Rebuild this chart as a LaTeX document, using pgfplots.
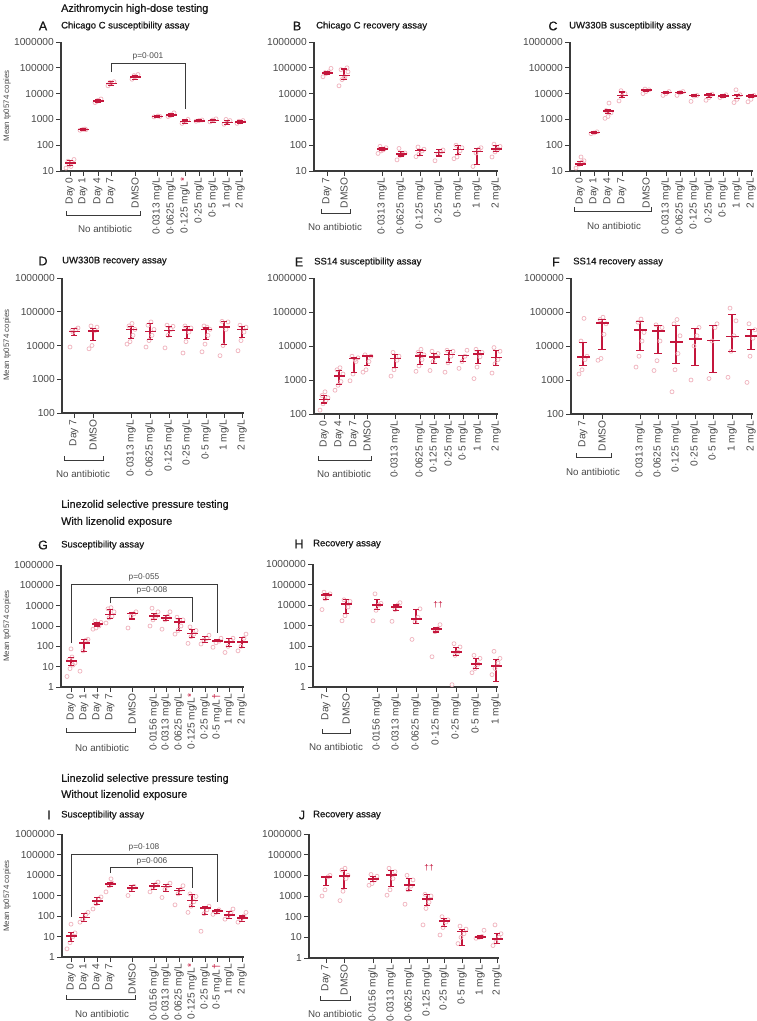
\documentclass[border=0pt]{standalone}
\usepackage{fontspec}
\setmainfont{Liberation Sans}
\newfontfamily\medfont{Liberation Sans}[FakeBold=0.7]
\usepackage{pgfplots}
\pgfplotsset{compat=1.18}
\definecolor{redc}{HTML}{C4163C}
\definecolor{pinkc}{HTML}{F0B6C0}
\definecolor{axc}{HTML}{3A3A3A}
\definecolor{txc}{HTML}{4A4A4A}
\newcommand{\tickf}{\fontsize{10.2}{11}\selectfont}
\newcommand{\naf}{\fontsize{9.8}{11}\selectfont}
\newcommand{\ylf}{\fontsize{7.9}{9}\selectfont}
\newcommand{\pvf}{\fontsize{8.3}{9}\selectfont}
\newcommand{\headf}{\medfont\fontsize{10.8}{12}\selectfont}
\newcommand{\titf}{\medfont\fontsize{9.5}{11}\selectfont}
\newcommand{\letf}{\medfont\fontsize{12.5}{14}\selectfont}
\pgfplotsset{
 mystyle/.style={
  scale only axis, clip=false,
  axis x line*=bottom, axis y line*=left,
  axis line style={draw=axc, line width=1.1pt},
  tick style={draw=axc, line width=0.9pt},
  tick align=outside, major tick length=5pt,
  yminorticks=false, xminorticks=false,
  tick label style={font=\tickf, text=txc},
  xticklabel style={rotate=90, anchor=east, inner sep=1.5pt},
  yticklabel style={inner sep=2pt},
  unbounded coords=jump,
 },
 ydecA/.style={ymin=10, ymax=1000000, ytick={10,100,1000,10000,100000,1000000}, yticklabels={10,100,1000,10000,100000,1000000}},
 ydecB/.style={ymin=100, ymax=1000000, ytick={100,1000,10000,100000,1000000}, yticklabels={100,1000,10000,100000,1000000}},
 ydecC/.style={ymin=1, ymax=1000000, ytick={1,10,100,1000,10000,100000,1000000}, yticklabels={1,10,100,1000,10000,100000,1000000}},
 mypts/.style={only marks, mark=o, mark size=2pt, color=pinkc, mark options={line width=0.75pt, draw=pinkc}},
 mybars/.style={color=redc, line width=1.1pt, mark=-, mark size=3pt, mark options={line width=1.1pt, draw=redc}},
 mymeans/.style={only marks, color=redc, mark=-, mark size=5.5pt, mark options={line width=1.6pt, draw=redc}},
}
\begin{document}
\begin{tikzpicture}
\path[use as bounding box] (0pt,0pt) rectangle (757pt,-1021pt);

% ---------------- A ----------------
\begin{semilogyaxis}[mystyle, ydecA, anchor=south west, at={(61pt,-171pt)}, width=182pt, height=129pt, xmin=61, xmax=243,
 xtick={70,83,98,111,135,157,171,185,199,213,227,240},
 xticklabels={Day 0,Day 1,Day 4,Day 7,DMSO,0·0313 mg/L,0·0625 mg/L,{0·125 mg/L\textcolor{redc}{*}},0·25 mg/L,0·5 mg/L,1 mg/L,2 mg/L}]
\addplot[mypts] coordinates {(66,13)(69,17)(72,22)(74,28)(68,24)(71,15)
(80,380)(83,410)(86,400)(85,425)
(95,4500)(98,5500)(101,6200)(97,5000)
(108,20000)(111,24000)(114,29000)(110,27000)
(132,36000)(135,45000)(138,55000)(134,50000)
(154,1250)(158,1350)(160,1300)
(168,1300)(171,1500)(174,1800)(170,1400)
(182,700)(185,800)(188,1000)(184,850)
(196,850)(199,900)(202,950)
(210,800)(213,950)(216,1050)(212,900)
(224,650)(227,750)(230,900)(226,1000)
(237,700)(240,800)(243,900)(239,850)};
\addplot[mybars] coordinates {(70,16)(70,25)(70,nan)(83,370)(83,430)(83,nan)(98,4600)(98,5800)(98,nan)(111,21000)(111,29000)(111,nan)(135,36000)(135,52000)(135,nan)(157,1220)(157,1380)(157,nan)(171,1250)(171,1650)(171,nan)(185,700)(185,950)(185,nan)(199,820)(199,950)(199,nan)(213,780)(213,1020)(213,nan)(227,640)(227,900)(227,nan)(240,720)(240,880)};
\addplot[mymeans] coordinates {(70,20)(83,400)(98,5200)(111,25000)(135,44000)(157,1300)(171,1450)(185,820)(199,880)(213,900)(227,760)(240,800)};
\end{semilogyaxis}

% ---------------- B ----------------
\begin{semilogyaxis}[mystyle, ydecA, anchor=south west, at={(314pt,-171pt)}, width=184pt, height=129pt, xmin=314, xmax=498,
 xtick={327,344,382,401,420,439,458,477,496},
 xticklabels={Day 7,DMSO,0·0313 mg/L,0·0625 mg/L,0·125 mg/L,0·25 mg/L,0·5 mg/L,1 mg/L,2 mg/L}]
\addplot[mypts] coordinates {(323,45000)(326,60000)(329,70000)(331,95000)(325,65000)
(339,20000)(342,35000)(345,45000)(348,70000)(341,85000)(347,100000)(344,40000)
(378,48)(381,60)(384,70)(386,80)(380,90)(383,65)
(397,27)(400,40)(403,45)(405,50)(399,75)
(416,36)(419,45)(422,60)(424,70)(418,85)
(435,25)(438,45)(441,55)(443,65)
(454,30)(457,35)(460,60)(462,80)(456,100)
(473,15)(476,50)(479,70)(481,80)
(492,35)(495,55)(498,70)(500,90)(494,110)};
\addplot[mybars] coordinates {(327,56000)(327,74000)(327,nan)(344,34000)(344,90000)(344,nan)(382,60)(382,80)(382,nan)(401,38)(401,56)(401,nan)(420,40)(420,68)(420,nan)(439,38)(439,66)(439,nan)(458,45)(458,100)(458,nan)(477,18)(477,75)(477,nan)(496,55)(496,98)};
\addplot[mymeans] coordinates {(327,64000)(344,50000)(382,70)(401,45)(420,63)(439,52)(458,68)(477,57)(496,72)};
\end{semilogyaxis}

% ---------------- C ----------------
\begin{semilogyaxis}[mystyle, ydecA, anchor=south west, at={(570pt,-171pt)}, width=183pt, height=129pt, xmin=570, xmax=753,
 xtick={580,594,608,622,646,666,680,694,709,723,737,751},
 xticklabels={Day 0,Day 1,Day 4,Day 7,DMSO,0·0313 mg/L,0·0625 mg/L,0·125 mg/L,0·25 mg/L,0·5 mg/L,1 mg/L,2 mg/L}]
\addplot[mypts] coordinates {(576,13)(579,18)(582,22)(584,25)(581,35)
(591,280)(594,300)(597,330)
(605,1100)(608,1300)(611,1800)(606,2200)(609,4300)
(619,5200)(622,8000)(625,10000)(621,13000)
(643,10000)(646,12000)(649,14000)(645,15000)
(663,8500)(666,10000)(669,12000)
(677,8500)(680,11000)(683,12000)
(691,5000)(694,8000)(697,8500)
(706,5500)(709,7000)(712,9500)
(720,7000)(723,8000)(726,9000)
(734,4500)(737,6000)(740,9000)(736,14000)
(748,4800)(751,6000)(754,8500)};
\addplot[mybars] coordinates {(580,16)(580,24)(580,nan)(594,290)(594,330)(594,nan)(608,1700)(608,2400)(608,nan)(622,7000)(622,11500)(622,nan)(646,12000)(646,14500)(646,nan)(666,10000)(666,12000)(666,nan)(680,10000)(680,12000)(680,nan)(694,7700)(694,9000)(694,nan)(709,7000)(709,10000)(709,nan)(723,7200)(723,9000)(723,nan)(737,6500)(737,9500)(737,nan)(751,6800)(751,8800)};
\addplot[mymeans] coordinates {(580,19)(594,310)(608,2150)(622,8500)(646,13500)(666,11000)(680,11000)(694,8400)(709,8800)(723,8000)(737,8400)(751,8000)};
\end{semilogyaxis}

% ---------------- D ----------------
\begin{semilogyaxis}[mystyle, ydecB, anchor=south west, at={(62pt,-413pt)}, width=182pt, height=135pt, xmin=62, xmax=244,
 xtick={74,93,131,150,169,187,206,224,242},
 xticklabels={Day 7,DMSO,0·0313 mg/L,0·0625 mg/L,0·125 mg/L,0·25 mg/L,0·5 mg/L,1 mg/L,2 mg/L}]
\addplot[mypts] coordinates {(70,9000)(73,25000)(76,30000)(78,33000)(72,28000)
(89,8000)(92,10000)(95,28000)(97,35000)(91,38000)
(127,11000)(130,13000)(133,20000)(135,30000)(129,38000)(132,45000)
(146,9000)(149,14000)(152,20000)(154,30000)(148,40000)(151,50000)
(165,8500)(168,20000)(171,30000)(173,37000)(167,40000)
(183,6000)(186,13000)(189,25000)(191,33000)(185,38000)
(202,6500)(205,11000)(208,20000)(210,30000)(204,38000)(207,35000)
(220,5000)(223,10000)(226,30000)(228,50000)(222,52000)
(238,7000)(241,14000)(244,25000)(246,35000)(240,40000)};
\addplot[mybars] coordinates {(74,20000)(74,31000)(74,nan)(93,14000)(93,32000)(93,nan)(131,16000)(131,37000)(131,nan)(150,15000)(150,45000)(150,nan)(169,18000)(169,37000)(169,nan)(187,16000)(187,37000)(187,nan)(206,15000)(206,33000)(206,nan)(224,10500)(224,50000)(224,nan)(242,17000)(242,36000)};
\addplot[mymeans] coordinates {(74,26000)(93,27000)(131,30000)(150,26000)(169,28000)(187,29000)(206,30000)(224,35000)(242,30000)};
\end{semilogyaxis}

% ---------------- E ----------------
\begin{semilogyaxis}[mystyle, ydecB, anchor=south west, at={(314pt,-414pt)}, width=184pt, height=136pt, xmin=314, xmax=498,
 xtick={324,339,354,367,395,420,434,449,463,478,496},
 xticklabels={Day 0,Day 4,Day 7,DMSO,0·0313 mg/L,0·0625 mg/L,0·125 mg/L,0·25 mg/L,0·5 mg/L,1 mg/L,2 mg/L}]
\addplot[mypts] coordinates {(320,130)(323,200)(326,250)(328,300)(322,350)(325,450)
(335,500)(338,700)(341,900)(343,1500)(337,2000)(340,2300)
(350,950)(353,1500)(356,3500)(358,4500)(352,5000)(355,4000)
(363,1700)(366,2000)(369,3500)(371,5000)(365,5500)
(391,1300)(394,2000)(397,3800)(399,5000)(393,6500)
(416,1800)(419,2600)(422,4000)(424,5500)(418,6500)(421,8000)
(430,1900)(433,3500)(436,5000)(438,6000)(432,7000)
(445,1700)(448,3200)(451,5000)(453,7000)(447,7500)
(459,2200)(462,3500)(465,5000)(467,7500)
(474,1100)(477,2400)(480,4800)(482,6500)(476,8000)
(492,1600)(495,3000)(498,4000)(500,7000)(494,9000)};
\addplot[mybars] coordinates {(324,211)(324,340)(324,nan)(339,740)(339,1900)(339,nan)(354,1660)(354,4600)(354,nan)(367,2600)(367,5400)(367,nan)(395,2400)(395,5600)(395,nan)(420,2900)(420,6300)(420,nan)(434,3000)(434,6000)(434,nan)(449,3300)(449,7300)(449,nan)(463,3500)(463,5400)(463,nan)(478,3000)(478,7500)(478,nan)(496,2600)(496,7200)};
\addplot[mymeans] coordinates {(324,265)(339,1290)(354,4300)(367,5000)(395,4300)(420,5000)(434,4800)(449,5600)(463,5200)(478,5800)(496,4600)};
\end{semilogyaxis}

% ---------------- F ----------------
\begin{semilogyaxis}[mystyle, ydecB, anchor=south west, at={(571pt,-414pt)}, width=182pt, height=136pt, xmin=571, xmax=753,
 xtick={583,602,640,658,676,695,713,732,751},
 xticklabels={Day 7,DMSO,0·0313 mg/L,0·0625 mg/L,0·125 mg/L,0·25 mg/L,0·5 mg/L,1 mg/L,2 mg/L}]
\addplot[mypts] coordinates {(579,1500)(582,2000)(585,4000)(587,5000)(581,14000)(584,65000)
(598,3800)(601,4300)(604,22000)(606,45000)(600,60000)(603,70000)
(636,2400)(639,5000)(642,14000)(644,25000)(638,50000)(641,62000)
(654,1900)(657,3700)(660,14000)(662,35000)(656,42000)
(672,450)(675,2000)(678,6000)(680,20000)(674,45000)(677,60000)
(691,1000)(694,10000)(697,20000)(699,35000)
(709,1100)(712,14000)(715,35000)(717,45000)
(728,1200)(731,7000)(734,20000)(736,55000)(730,130000)
(747,850)(750,5000)(753,17000)(755,30000)(749,45000)};
\addplot[mybars, mark size=4pt] coordinates {(583,2600)(583,12900)(583,nan)(602,8100)(602,60000)(602,nan)(640,7300)(640,54000)(640,nan)(658,5900)(658,40000)(658,nan)(676,3000)(676,40000)(676,nan)(695,2600)(695,33000)(695,nan)(713,1700)(713,40000)(713,nan)(732,7000)(732,85000)(732,nan)(751,8000)(751,31000)};
\addplot[mymeans, mark size=6.5pt] coordinates {(583,4700)(602,48000)(640,29000)(658,27500)(676,13200)(695,15800)(713,14700)(732,19300)(751,20000)};
\end{semilogyaxis}

% ---------------- G ----------------
\begin{semilogyaxis}[mystyle, ydecC, anchor=south west, at={(61pt,-687pt)}, width=183pt, height=122pt, xmin=61, xmax=244,
 xtick={71,84,97,110,132,154,166,179,192,205,217,229,242},
 xticklabels={Day 0,Day 1,Day 4,Day 7,DMSO,0·0156 mg/L,0·0313 mg/L,0·0625 mg/L,{0·125 mg/L\textcolor{redc}{*}},0·25 mg/L,{0·5 mg/L\textcolor{redc}{†}},1 mg/L,2 mg/L}]
\addplot[mypts] coordinates {(67,3.3)(70,8)(73,12)(75,15)(69,22)(72,30)(71,75)
(80,6)(83,60)(86,200)(88,220)
(93,700)(96,800)(99,1000)(101,1500)(95,1800)
(106,1400)(109,2500)(112,3000)(114,5000)(108,7000)(111,8000)
(128,800)(131,3000)(134,4000)(136,5000)
(150,1000)(153,2000)(156,3000)(158,5000)(152,7500)
(162,700)(165,2000)(168,3000)(170,5000)
(175,400)(178,600)(181,1000)(183,2000)(177,2700)
(188,140)(191,300)(194,400)(196,600)(190,900)
(201,130)(204,200)(207,250)(209,350)
(213,90)(216,150)(219,180)(221,250)
(225,50)(228,100)(231,200)(233,250)
(238,60)(241,100)(244,250)(246,400)};
\addplot[mybars] coordinates {(71,11)(71,27)(71,nan)(84,55)(84,220)(84,nan)(97,1000)(97,1500)(97,nan)(110,2300)(110,6500)(110,nan)(132,2200)(132,4400)(132,nan)(154,2000)(154,4300)(154,nan)(166,1900)(166,3300)(166,nan)(179,600)(179,2300)(179,nan)(192,270)(192,700)(192,nan)(205,160)(205,300)(205,nan)(217,170)(217,210)(217,nan)(229,100)(229,250)(229,nan)(242,90)(242,270)};
\addplot[mymeans] coordinates {(71,18.5)(84,148)(97,1230)(110,3700)(132,4100)(154,3200)(166,2500)(179,1600)(192,430)(205,215)(217,188)(229,160)(242,160)};
\end{semilogyaxis}

% ---------------- H ----------------
\begin{semilogyaxis}[mystyle, ydecC, anchor=south west, at={(313pt,-687pt)}, width=185pt, height=123pt, xmin=313, xmax=498,
 xtick={326,346,377,396,416,436,456,476,496},
 xticklabels={Day 7,DMSO,0·0156 mg/L,0·0313 mg/L,0·0625 mg/L,0·125 mg/L,0·25 mg/L,0·5 mg/L,1 mg/L}]
\addplot[mypts] coordinates {(322,6000)(325,20000)(328,30000)(330,35000)(324,42000)
(342,1700)(345,3000)(348,8000)(350,15000)(344,18000)
(373,1700)(376,5500)(379,10000)(381,12000)(375,35000)
(392,1600)(395,6000)(398,10000)(400,13000)
(412,210)(415,1500)(418,2500)(420,6500)
(432,30)(435,500)(438,700)(440,1100)
(452,1.3)(455,35)(458,50)(460,90)(454,130)
(472,5)(475,8)(478,13)(480,25)(474,35)
(492,4)(495,8)(498,15)(500,25)(494,55)};
\addplot[mybars] coordinates {(326,18000)(326,38000)(326,nan)(346,3800)(346,18000)(346,nan)(377,6000)(377,18000)(377,nan)(396,5500)(396,10000)(396,nan)(416,1300)(416,6000)(416,nan)(436,480)(436,800)(436,nan)(456,35)(456,85)(456,nan)(476,8)(476,24)(476,nan)(496,1.8)(496,22)};
\addplot[mymeans] coordinates {(326,30500)(346,11000)(377,10300)(396,7900)(416,2100)(436,660)(456,51)(476,13)(496,10.7)};
\end{semilogyaxis}

% ---------------- I ----------------
\begin{semilogyaxis}[mystyle, ydecC, anchor=south west, at={(62pt,-957pt)}, width=182pt, height=123pt, xmin=62, xmax=244,
 xtick={71,84,97,110,132,154,166,179,192,205,217,229,242},
 xticklabels={Day 0,Day 1,Day 4,Day 7,DMSO,0·0156 mg/L,0·0313 mg/L,0·0625 mg/L,{0·125 mg/L\textcolor{redc}{*}},0·25 mg/L,{0·5 mg/L\textcolor{redc}{†}},1 mg/L,2 mg/L}]
\addplot[mypts] coordinates {(67,2.5)(70,5)(73,10)(75,15)(71,40)
(80,50)(83,70)(86,120)(88,150)
(93,220)(96,400)(99,700)(101,850)
(106,1500)(109,3000)(112,4000)(111,6500)
(128,1000)(131,2000)(134,2800)
(150,1500)(153,2500)(156,3500)(158,4500)
(162,800)(165,2000)(168,3000)(170,4000)
(175,350)(178,1200)(181,2000)(183,3000)
(188,150)(191,300)(194,500)(196,900)(190,1200)
(201,18)(204,130)(207,200)(209,300)
(213,120)(216,150)(219,200)
(225,70)(228,100)(231,150)(233,220)
(238,50)(241,70)(244,100)(246,150)};
\addplot[mybars] coordinates {(71,6)(71,16)(71,nan)(84,55)(84,130)(84,nan)(97,380)(97,800)(97,nan)(110,2800)(110,4500)(110,nan)(132,1500)(132,3000)(132,nan)(154,2000)(154,3700)(154,nan)(166,1500)(166,3500)(166,nan)(179,1100)(179,2300)(179,nan)(192,300)(192,1100)(192,nan)(205,120)(205,300)(205,nan)(217,130)(217,200)(217,nan)(229,75)(229,160)(229,nan)(242,55)(242,100)};
\addplot[mymeans] coordinates {(71,10.5)(84,85)(97,540)(110,3700)(132,2300)(154,2900)(166,2700)(179,1750)(192,560)(205,240)(217,170)(229,112)(242,78)};
\end{semilogyaxis}

% ---------------- J ----------------
\begin{semilogyaxis}[mystyle, ydecC, anchor=south west, at={(309pt,-958pt)}, width=190pt, height=124pt, xmin=309, xmax=499,
 xtick={326,344,373,391,409,427,444,462,480,497},
 xticklabels={Day 7,DMSO,0·0156 mg/L,0·0313 mg/L,0·0625 mg/L,0·125 mg/L,0·25 mg/L,0·5 mg/L,1 mg/L,2 mg/L}]
\addplot[mypts] coordinates {(322,1000)(325,2000)(328,8500)(330,10000)
(340,600)(343,1700)(346,7000)(348,10000)(342,18000)(345,22000)
(369,3300)(372,4000)(375,6000)(377,9000)(371,11000)
(387,1100)(390,2000)(393,7000)(395,15000)(389,22000)
(405,400)(408,2000)(411,3000)(413,6000)(407,10000)
(423,40)(426,250)(429,500)(431,1000)(425,1200)
(440,13)(443,30)(446,55)(448,70)(442,100)
(458,5)(461,10)(464,15)(466,25)(460,35)
(476,9)(479,10)(482,11)(484,22)
(493,4)(496,6)(499,10)(501,15)(495,40)};
\addplot[mybars] coordinates {(326,3200)(326,9000)(326,nan)(344,2300)(344,17000)(344,nan)(373,4800)(373,8500)(373,nan)(391,3000)(391,17000)(391,nan)(409,1800)(409,7200)(409,nan)(427,350)(427,1200)(427,nan)(444,35)(444,80)(444,nan)(462,4)(462,25)(462,nan)(480,9)(480,12)(480,nan)(497,5)(497,15)};
\addplot[mymeans] coordinates {(326,8500)(344,9200)(373,6700)(391,10700)(409,3300)(427,740)(444,63)(462,19)(480,10.5)(497,8.5)};
\end{semilogyaxis}

% ---------------- annotations ----------------
\begin{scope}[x=1pt,y=-1pt]
\tikzset{hd/.style={anchor=west, font=\headf, text=black!90, inner sep=0pt},
 tt/.style={anchor=west, font=\titf, text=black!90, inner sep=0pt},
 lt/.style={font=\letf, text=black!90, inner sep=0pt},
 na/.style={font=\naf, text=txc, inner sep=0pt},
 yl/.style={font=\ylf, text=txc, inner sep=0pt, rotate=90},
 pv/.style={font=\pvf, text=txc, inner sep=0pt},
 br/.style={draw=axc, line width=0.9pt}}
\node[hd] at (61,9) {Azithromycin high-dose testing};
\node[hd] at (61,505) {Linezolid selective pressure testing};
\node[hd] at (61,522) {With lizenolid exposure};
\node[hd] at (61,779) {Linezolid selective pressure testing};
\node[hd] at (61,795) {Without lizenolid exposure};
\node[lt] at (43,26) {A}; \node[tt] at (61,26) {Chicago C susceptibility assay};
\node[lt] at (297,26) {B}; \node[tt] at (316,26) {Chicago C recovery assay};
\node[lt] at (553,26) {C}; \node[tt] at (569,26) {UW330B susceptibility assay};
\node[lt] at (43,261) {D}; \node[tt] at (62,261) {UW330B recovery assay};
\node[lt] at (299,262) {E}; \node[tt] at (314,262) {SS14 susceptibility assay};
\node[lt] at (556,262) {F}; \node[tt] at (573,262) {SS14 recovery assay};
\node[lt] at (43,545) {G}; \node[tt] at (61,545) {Susceptibility assay};
\node[lt] at (299,544) {H}; \node[tt] at (313,544) {Recovery assay};
\node[lt] at (49,815) {I}; \node[tt] at (61,815) {Susceptibility assay};
\node[lt] at (302,815) {J}; \node[tt] at (313,815) {Recovery assay};
\node[yl] at (7,106) {Mean tp0574 copies};
\node[yl] at (7,345) {Mean tp0574 copies};
\node[yl] at (7,626) {Mean tp0574 copies};
\node[yl] at (7,896) {Mean tp0574 copies};
\draw[br] (66,211)--(66,215)--(140,215)--(140,211); \node[na] at (105,229) {No antibiotic};
\draw[br] (321,209)--(321,213)--(350,213)--(350,209); \node[na] at (335,227) {No antibiotic};
\draw[br] (574,207)--(574,211)--(651,211)--(651,207); \node[na] at (614,226) {No antibiotic};
\draw[br] (64,456)--(64,460)--(103,460)--(103,456); \node[na] at (83,474) {No antibiotic};
\draw[br] (318,456)--(318,460)--(371,460)--(371,456); \node[na] at (344,474) {No antibiotic};
\draw[br] (576,453)--(576,457)--(611,457)--(611,453); \node[na] at (593,472) {No antibiotic};
\draw[br] (66,728)--(66,732)--(135,732)--(135,728); \node[na] at (102,748) {No antibiotic};
\draw[br] (322,729)--(322,733)--(350,733)--(350,729); \node[na] at (336,747) {No antibiotic};
\draw[br] (66,995)--(66,999)--(135,999)--(135,995); \node[na] at (102,1014) {No antibiotic};
\draw[br] (320,996)--(320,1000)--(350,1000)--(350,996); \node[na] at (335,1014) {No antibiotic};
\draw[br] (111,72)--(111,63)--(185,63)--(185,109); \node[pv] at (148,56) {p=0·001};
\draw[br] (71,643)--(71,584)--(217,584)--(217,633); \node[pv] at (144,577) {p=0·055};
\draw[br] (110,603)--(110,597)--(192,597)--(192,622); \node[pv] at (152,590) {p=0·008};
\draw[br] (71,917)--(71,854)--(217,854)--(217,902); \node[pv] at (144,847) {p=0·108};
\draw[br] (110,873)--(110,867)--(192,867)--(192,888); \node[pv] at (152,861) {p=0·006};
\node[pv, text=redc] at (438,605) {††};
\node[pv, text=redc] at (429,868) {††};
\end{scope}
\end{tikzpicture}
\end{document}
